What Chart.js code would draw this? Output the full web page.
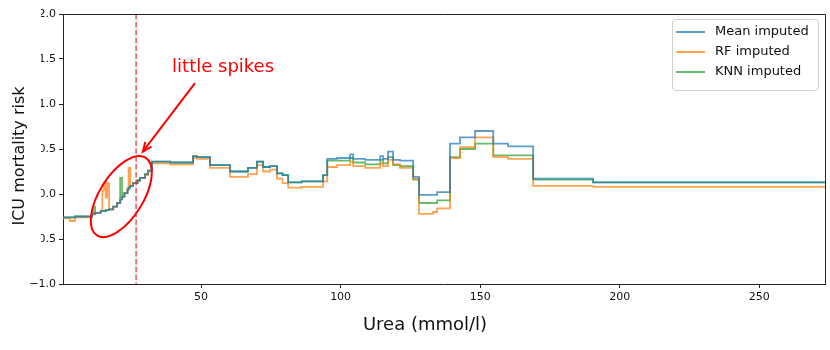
<!DOCTYPE html>
<html><head><meta charset="utf-8">
<script src="https://cdn.jsdelivr.net/npm/chart.js@4/dist/chart.umd.min.js"></script>
<style>html,body{margin:0;padding:0;background:#fff;overflow:hidden}#wrap{width:830px;height:350px;position:relative}</style>
</head><body><div id="wrap"><canvas id="c" width="830" height="350"></canvas></div>
<script>
// Step breakpoints (Urea, mmol/l) and risk values that start at each breakpoint
const urea = [0.5,3.0,4.8,10.9,11.3,12.0,14.0,14.6,15.2,15.8,16.3,17.0,18.5,19.9,21.0,21.7,22.5,23.6,24.0,24.6,25.6,27.2,28.1,29.9,31.0,32.4,38.9,47.1,48.5,53.2,60.4,66.8,70.0,72.2,74.7,77.2,79.2,81.2,86.0,93.7,95.2,98.7,103.4,104.5,108.8,114.2,115.2,117.0,118.8,121.3,126.0,128.1,133.1,134.6,139.2,142.8,148.2,154.7,160.0,169.0,190.5,273.6];
const meanRisk = [-0.26,-0.26,-0.25,-0.22,-0.22,-0.21,-0.19,-0.19,-0.19,-0.18,-0.18,-0.17,-0.14,-0.10,-0.06,-0.03,0.01,0.05,0.07,0.09,0.12,0.15,0.18,0.22,0.26,0.36,0.35,0.42,0.41,0.32,0.25,0.29,0.36,0.30,0.31,0.23,0.21,0.13,0.14,0.21,0.39,0.40,0.44,0.39,0.38,0.42,0.39,0.47,0.38,0.37,0.19,-0.01,-0.01,0.02,0.56,0.63,0.70,0.56,0.53,0.17,0.13,0.13];
const rfRisk = [-0.27,-0.30,-0.26,-0.23,-0.23,-0.21,-0.19,0.04,0.13,-0.04,0.12,-0.17,-0.14,-0.10,-0.06,-0.03,0.01,0.05,0.29,0.09,0.12,0.15,0.18,0.21,0.25,0.34,0.33,0.40,0.39,0.29,0.19,0.22,0.32,0.25,0.27,0.17,0.12,0.07,0.08,0.14,0.30,0.32,0.36,0.31,0.29,0.34,0.31,0.38,0.33,0.29,0.17,-0.22,-0.20,-0.16,0.40,0.52,0.63,0.41,0.39,0.09,0.08,0.08];
const knnRisk = [-0.26,-0.26,-0.25,-0.22,-0.14,-0.21,-0.19,-0.19,-0.19,-0.18,-0.18,-0.17,-0.14,-0.10,0.18,-0.03,0.01,0.05,0.07,0.09,0.12,0.15,0.18,0.22,0.26,0.36,0.35,0.42,0.41,0.32,0.25,0.29,0.36,0.30,0.31,0.23,0.21,0.13,0.14,0.21,0.37,0.37,0.40,0.35,0.33,0.38,0.34,0.41,0.32,0.31,0.16,-0.10,-0.10,-0.07,0.41,0.50,0.56,0.43,0.43,0.16,0.13,0.13];
const seriesLabels = ['Mean imputed','RF imputed','KNN imputed'];
const xTicks = [50,100,150,200,250];
const yTicks = [-1.0,-0.5,0.0,0.5,1.0,1.5,2.0];
const xLimits = [0.5, 273.6];
const yLimits = [-1.0, 2.0];
const thresholdUrea = 26.7;
const noteText = 'little spikes';
const noteAnchor = [39.6, 1.356];      // data coords of text baseline-left
const arrowTail = [47.8, 1.233];
const arrowHead = [29.1, 0.47];
const ellipseCenter = [21.4, -0.028];
const xTitle = 'Urea (mmol/l)';
const yTitle = 'ICU mortality risk';

const colors = ['rgba(31,119,180,0.72)','rgba(255,127,14,0.72)','rgba(44,160,44,0.72)'];
const seriesValues = [meanRisk, rfRisk, knnRisk];
const FONT = "'DejaVu Sans', sans-serif";

const datasets = seriesValues.map((vals, k) => ({
  label: seriesLabels[k],
  data: urea.map((x, i) => ({x: x, y: vals[i]})),
  borderColor: colors[k],
  backgroundColor: colors[k],
  borderWidth: 1.8,
  pointRadius: 0,
  stepped: 'before',
  fill: false,
  tension: 0
}));

const fmtY = v => (v < 0 ? '\u2212' : '') + Math.abs(v).toFixed(1);

const overlay = {
  id: 'overlay',
  afterDatasetsDraw(chart) {
    const {ctx, chartArea: a, scales: {x, y}} = chart;
    ctx.save();
    const tx = x.getPixelForValue(thresholdUrea);
    ctx.strokeStyle = 'rgba(230,30,30,0.75)';
    ctx.lineWidth = 1.5;
    ctx.setLineDash([5.5, 2.4]);
    ctx.beginPath(); ctx.moveTo(tx, a.top); ctx.lineTo(tx, a.bottom); ctx.stroke();
    ctx.setLineDash([]);
    ctx.strokeStyle = '#ff0000';
    ctx.lineWidth = 2;
    ctx.beginPath();
    ctx.ellipse(x.getPixelForValue(ellipseCenter[0]), y.getPixelForValue(ellipseCenter[1]), 45.8, 21.8, -58 * Math.PI / 180, 0, 2 * Math.PI);
    ctx.stroke();
    const x0 = x.getPixelForValue(arrowTail[0]), y0 = y.getPixelForValue(arrowTail[1]);
    const x1 = x.getPixelForValue(arrowHead[0]), y1 = y.getPixelForValue(arrowHead[1]);
    const ang = Math.atan2(y1 - y0, x1 - x0);
    ctx.beginPath(); ctx.moveTo(x0, y0); ctx.lineTo(x1, y1); ctx.stroke();
    ctx.beginPath();
    ctx.moveTo(x1 - 10 * Math.cos(ang - 0.4), y1 - 10 * Math.sin(ang - 0.4));
    ctx.lineTo(x1, y1);
    ctx.lineTo(x1 - 10 * Math.cos(ang + 0.4), y1 - 10 * Math.sin(ang + 0.4));
    ctx.stroke();
    ctx.fillStyle = '#ff0000';
    ctx.font = '18px ' + FONT;
    ctx.textAlign = 'left'; ctx.textBaseline = 'alphabetic';
    ctx.fillText(noteText, x.getPixelForValue(noteAnchor[0]), y.getPixelForValue(noteAnchor[1]));
    ctx.restore();
  },
  afterDraw(chart) {
    const {ctx, chartArea: a} = chart;
    ctx.save();
    ctx.strokeStyle = '#222'; ctx.lineWidth = 1;
    ctx.beginPath();
    ctx.moveTo(a.left, a.top + 0.5); ctx.lineTo(a.right + 0.5, a.top + 0.5); ctx.lineTo(a.right + 0.5, a.bottom);
    ctx.stroke();
    const lx = 672, ly = 19, lw = 146, lh = 71;
    ctx.fillStyle = 'rgba(255,255,255,0.85)';
    ctx.strokeStyle = '#cfcfcf';
    ctx.beginPath(); ctx.roundRect(lx + 0.5, ly + 0.5, lw, lh, 3); ctx.fill(); ctx.stroke();
    ctx.font = '13px ' + FONT; ctx.textBaseline = 'middle'; ctx.textAlign = 'left';
    chart.data.datasets.forEach((d, i) => {
      const yy = ly + 13 + i * 20;
      ctx.strokeStyle = d.borderColor; ctx.lineWidth = 2;
      ctx.beginPath(); ctx.moveTo(lx + 4, yy); ctx.lineTo(lx + 33, yy); ctx.stroke();
      ctx.fillStyle = '#111';
      ctx.fillText(d.label, lx + 43, yy);
    });
    // white label box partly covering the tick labels, then axis titles
    ctx.fillStyle = '#fff';
    ctx.fillRect(0, 0, 41, 279);
    ctx.fillStyle = '#111';
    ctx.font = '16px ' + FONT;
    ctx.textAlign = 'center'; ctx.textBaseline = 'middle';
    ctx.save();
    ctx.translate(20, 156);
    ctx.rotate(-Math.PI / 2);
    ctx.fillText(yTitle, 0, 0);
    ctx.restore();
    ctx.font = '18px ' + FONT;
    ctx.fillText(xTitle, 425, 325);
    ctx.restore();
  }
};

new Chart(document.getElementById('c'), {
  type: 'line',
  data: {datasets},
  plugins: [overlay],
  options: {
    responsive: false, animation: false,
    layout: {padding: {top: 14, right: 5, left: 0, bottom: 0}},
    plugins: {legend: {display: false}, tooltip: {enabled: false}},
    scales: {
      x: {
        type: 'linear', min: xLimits[0], max: xLimits[1],
        afterBuildTicks: s => { s.ticks = xTicks.map(v => ({value: v})); },
        afterFit: s => { s.height = 66; },
        grid: {drawOnChartArea: false, drawTicks: true, tickLength: 4, color: '#222'},
        border: {color: '#222', width: 1},
        ticks: {font: {family: FONT, size: 11}, color: '#111', padding: 3, maxRotation: 0, autoSkip: false, callback: v => String(v)}
      },
      y: {
        type: 'linear', min: yLimits[0], max: yLimits[1],
        afterBuildTicks: s => { s.ticks = yTicks.map(v => ({value: v})); },
        afterFit: s => { s.width = 63; },
        grid: {drawOnChartArea: false, drawTicks: true, tickLength: 4, color: '#222'},
        border: {color: '#222', width: 1},
        ticks: {font: {family: FONT, size: 11}, color: '#111', padding: 3, autoSkip: false, callback: v => fmtY(v)}
      }
    }
  }
});
</script></body></html>
